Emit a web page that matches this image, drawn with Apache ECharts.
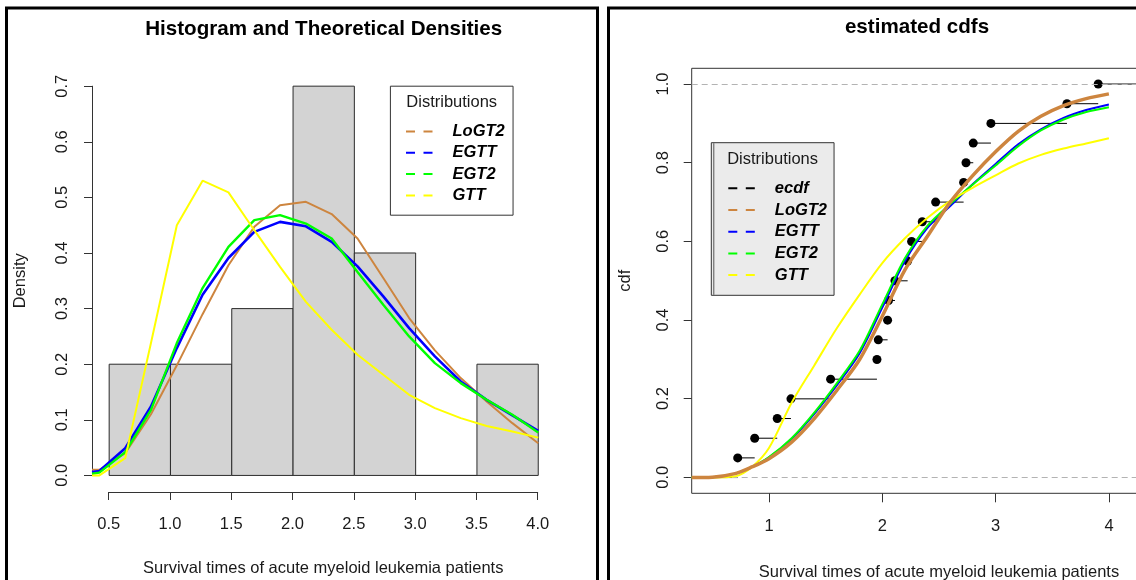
<!DOCTYPE html>
<html>
<head>
<meta charset="utf-8">
<script src="https://cdn.jsdelivr.net/npm/echarts@6/dist/echarts.min.js"></script>
<style>
  html, body { margin: 0; padding: 0; background: #fff; }
  #chart { width: 1136px; height: 580px; }
</style>
</head>
<body>
<div id="chart"></div>
<script>
// Histogram of survival times (density scale)
const breaks = [0.5, 1.0, 1.5, 2.0, 2.5, 3.0, 3.5, 4.0];
const histDensity = [0.2, 0.2, 0.3, 0.7, 0.4, 0.0, 0.2];

// Fitted densities, evaluated on a coarse grid
const densX  = [0.36, 0.42, 0.631, 0.841, 1.052, 1.262, 1.473, 1.684, 1.894, 2.105, 2.315, 2.526, 2.736, 2.947, 3.157, 3.368, 3.579, 3.789, 4.0];
const dLoGT2 = [0.010, 0.010, 0.040, 0.110, 0.198, 0.290, 0.378, 0.447, 0.486, 0.492, 0.470, 0.426, 0.355, 0.283, 0.225, 0.175, 0.133, 0.094, 0.058];
const dEGTT  = [0.006, 0.008, 0.049, 0.124, 0.229, 0.325, 0.391, 0.438, 0.456, 0.448, 0.420, 0.376, 0.322, 0.265, 0.214, 0.169, 0.136, 0.108, 0.080];
const dEGT2  = [0.003, 0.005, 0.042, 0.118, 0.238, 0.337, 0.411, 0.459, 0.468, 0.453, 0.426, 0.366, 0.307, 0.250, 0.202, 0.166, 0.136, 0.109, 0.077];
const dGTT   = [0.000, 0.000, 0.031, 0.238, 0.450, 0.530, 0.509, 0.441, 0.375, 0.312, 0.262, 0.217, 0.181, 0.145, 0.121, 0.103, 0.089, 0.079, 0.068];

// Empirical cdf: sorted observations and step heights
const ecdfX = [0.724, 0.874, 1.073, 1.194, 1.544, 1.953, 1.965, 2.047, 2.055, 2.112, 2.224, 2.259, 2.353, 2.471, 2.718, 2.739, 2.803, 2.959, 3.630, 3.906];
const ecdfY = [0.05, 0.10, 0.15, 0.20, 0.25, 0.30, 0.35, 0.40, 0.45, 0.50, 0.55, 0.60, 0.65, 0.70, 0.75, 0.80, 0.85, 0.90, 0.95, 1.00];

// Fitted cdfs
const cdfX   = [0.318, 0.5, 0.7, 0.85, 1.0, 1.2, 1.4, 1.6, 1.8, 2.0, 2.2, 2.4, 2.6, 2.8, 3.0, 3.2, 3.4, 3.6, 3.8, 4.0];
const cLoGT2 = [0.000, 0.001, 0.010, 0.027, 0.048, 0.090, 0.150, 0.222, 0.300, 0.410, 0.528, 0.614, 0.700, 0.768, 0.828, 0.880, 0.918, 0.945, 0.963, 0.975];
const cEGTT  = [0.000, 0.001, 0.010, 0.027, 0.051, 0.098, 0.162, 0.235, 0.316, 0.432, 0.550, 0.635, 0.690, 0.746, 0.797, 0.847, 0.885, 0.914, 0.934, 0.948];
const cEGT2  = [0.000, 0.001, 0.010, 0.027, 0.052, 0.100, 0.165, 0.240, 0.322, 0.440, 0.557, 0.640, 0.695, 0.745, 0.793, 0.842, 0.882, 0.910, 0.929, 0.941];
const cGTT   = [0.000, 0.000, 0.003, 0.027, 0.075, 0.190, 0.285, 0.380, 0.465, 0.545, 0.608, 0.660, 0.703, 0.737, 0.768, 0.798, 0.820, 0.836, 0.849, 0.862];

const yTicksDensity = [0, 0.7, 0.1];
const xTicksHist = [0.5, 4.0, 0.5];
const yTicksCdf = [0, 1, 0.2];
const xTicksCdf = [1, 4, 1];

const FONT = '"Liberation Sans", Arial, Helvetica, sans-serif';
const TXT = '#1a1a1a';
const AX = '#333';
const COL = { LoGT2: '#CD853F', EGTT: '#0000FF', EGT2: '#00FF00', GTT: '#FFFF00', ecdf: '#000000' };

const pairs = (xs, ys) => xs.map((x, i) => [x, ys[i]]);

const histData = histDensity.map((d, i) => [breaks[i], breaks[i + 1], d]);

// step segments: mode 1 = open to the left edge, 2 = open to the right edge
const segData = [[ecdfX[0], ecdfX[0], 0, 1]];
ecdfX.forEach((x, i) => {
  if (i < ecdfX.length - 1) segData.push([x, ecdfX[i + 1], ecdfY[i], 0]);
  else segData.push([x, x, ecdfY[i], 2]);
});

const tickLabel = (digits) => (v) => v.toFixed(digits);

const axisText = { color: TXT, fontSize: 16.5, fontFamily: FONT };

function hidden(gridIndex, min, max) {
  return { type: 'value', gridIndex, min, max, show: false };
}

function curve(name, xs, ys, xi, width, z) {
  return {
    name, type: 'line', xAxisIndex: xi, yAxisIndex: xi,
    data: pairs(xs, ys), symbol: 'none', showSymbol: false,
    lineStyle: { color: COL[name], width }, itemStyle: { color: COL[name] },
    z, animation: false, silent: true
  };
}

const dashIcon = 'path://M0,0H9V2H0Z M17.5,0H26.5V2H17.5Z';

const legendBase = {
  orient: 'vertical', icon: dashIcon, itemWidth: 26.5, itemHeight: 2,
  selectedMode: false, borderColor: AX, borderWidth: 1, borderRadius: 0,
  textStyle: { fontFamily: FONT, fontSize: 16.5, fontWeight: 'bold', fontStyle: 'italic',
               color: '#000', lineHeight: 18, padding: [0, 0, 0, 15] }
};

const option = {
  backgroundColor: '#ffffff',
  animation: false,
  title: [
    { text: 'Histogram and Theoretical Densities', left: 323.7, top: 18.7, textAlign: 'center', padding: 0,
      textStyle: { fontFamily: FONT, fontSize: 20.6, fontWeight: 'bold', color: '#000', lineHeight: 22 } },
    { text: 'estimated cdfs', left: 917, top: 16.3, textAlign: 'center', padding: 0,
      textStyle: { fontFamily: FONT, fontSize: 20.6, fontWeight: 'bold', color: '#000', lineHeight: 22 } },
    { text: 'Distributions', left: 451.7, top: 93.7, textAlign: 'center', padding: 0, z: 20,
      textStyle: { fontFamily: FONT, fontSize: 16.5, fontWeight: 'normal', color: TXT, lineHeight: 18 } },
    { text: 'Distributions', left: 772.6, top: 150, textAlign: 'center', padding: 0, z: 20,
      textStyle: { fontFamily: FONT, fontSize: 16.5, fontWeight: 'normal', color: TXT, lineHeight: 18 } }
  ],
  legend: [
    Object.assign({}, legendBase, {
      data: ['LoGT2', 'EGTT', 'EGT2', 'GTT'], left: 390.4, top: 86.2,
      padding: [36.3, 8.3, 10.8, 15.6], itemGap: 3.3, backgroundColor: '#ffffff'
    }),
    Object.assign({}, legendBase, {
      data: ['ecdf', 'LoGT2', 'EGTT', 'EGT2', 'GTT'], left: 711.3, top: 142.7,
      padding: [36.6, 7, 11.2, 17], itemGap: 3.7, backgroundColor: '#EBEBEB'
    })
  ],
  grid: [
    { left: 92, top: 70.6, width: 463.4, height: 420.4, outerBoundsMode: 'none' },
    { left: 92, top: 86.2, width: 400, height: 389.2, outerBoundsMode: 'none' },
    { left: 108.7, top: 100, width: 429, height: 392, outerBoundsMode: 'none' },
    { left: 691.7, top: 68.3, width: 450.6, height: 425, outerBoundsMode: 'none',
      show: true, borderColor: AX, borderWidth: 1, backgroundColor: 'transparent' },
    { left: 691.7, top: 84, width: 300, height: 393.3, outerBoundsMode: 'none' },
    { left: 769, top: 100, width: 340, height: 393.3, outerBoundsMode: 'none' }
  ],
  xAxis: [
    hidden(0, 0.36, 4.14),
    hidden(1, 0, 1),
    { type: 'value', gridIndex: 2, min: xTicksHist[0], max: xTicksHist[1], interval: xTicksHist[2],
      position: 'bottom', splitLine: { show: false },
      axisLine: { show: true, lineStyle: { color: AX, width: 1 } },
      axisTick: { show: true, inside: false, length: 8, lineStyle: { color: AX, width: 1 } },
      axisLabel: Object.assign({ margin: 24, formatter: tickLabel(1), showMinLabel: true, showMaxLabel: true }, axisText),
      name: 'Survival times of acute myeloid leukemia patients', nameLocation: 'middle', nameGap: 67.5,
      nameTextStyle: axisText },
    hidden(3, 0.318, 4.295),
    hidden(4, 0, 1),
    { type: 'value', gridIndex: 5, min: xTicksCdf[0], max: xTicksCdf[1], interval: xTicksCdf[2],
      position: 'bottom', splitLine: { show: false },
      axisLine: { show: false },
      axisTick: { show: true, inside: false, length: 9, lineStyle: { color: AX, width: 1 } },
      axisLabel: Object.assign({ margin: 25, formatter: tickLabel(0), showMinLabel: true, showMaxLabel: true }, axisText),
      name: 'Survival times of acute myeloid leukemia patients', nameLocation: 'middle', nameGap: 70.5,
      nameTextStyle: axisText }
  ],
  yAxis: [
    hidden(0, -0.028, 0.728),
    { type: 'value', gridIndex: 1, min: yTicksDensity[0], max: yTicksDensity[1], interval: yTicksDensity[2],
      position: 'left', splitLine: { show: false },
      axisLine: { show: true, lineStyle: { color: AX, width: 1 } },
      axisTick: { show: true, inside: false, length: 8, lineStyle: { color: AX, width: 1 } },
      axisLabel: Object.assign({ rotate: 90, margin: 21, formatter: tickLabel(1), showMinLabel: true, showMaxLabel: true }, axisText),
      name: 'Density', nameLocation: 'middle', nameGap: 62.7, nameTextStyle: axisText },
    hidden(2, 0, 1),
    hidden(3, -0.04, 1.04),
    { type: 'value', gridIndex: 4, min: yTicksCdf[0], max: yTicksCdf[1], interval: yTicksCdf[2],
      position: 'left', splitLine: { show: false },
      axisLine: { show: false },
      axisTick: { show: true, inside: false, length: 8, lineStyle: { color: AX, width: 1 } },
      axisLabel: Object.assign({ rotate: 90, margin: 20, formatter: tickLabel(1), showMinLabel: true, showMaxLabel: true }, axisText),
      name: 'cdf', nameLocation: 'middle', nameGap: 58, nameTextStyle: axisText },
    hidden(5, 0, 1)
  ],
  series: [
    // histogram bars
    {
      type: 'custom', name: 'hist', xAxisIndex: 0, yAxisIndex: 0, data: histData,
      encode: { x: [0, 1], y: 2 }, z: 1, silent: true, clip: false,
      renderItem: (params, api) => {
        const p0 = api.coord([api.value(0), api.value(2)]);
        const p1 = api.coord([api.value(1), 0]);
        return {
          type: 'rect',
          shape: { x: p0[0], y: p0[1], width: p1[0] - p0[0], height: p1[1] - p0[1] },
          style: { fill: '#D3D3D3', stroke: '#2b2b2b', lineWidth: 1 }
        };
      }
    },
    curve('LoGT2', densX, dLoGT2, 0, 2, 2),
    curve('EGTT', densX, dEGTT, 0, 2.6, 3),
    curve('EGT2', densX, dEGT2, 0, 2.4, 4),
    curve('GTT', densX, dGTT, 0, 2, 5),

    // empirical cdf: horizontal steps
    {
      type: 'custom', name: 'ecdfSteps', xAxisIndex: 3, yAxisIndex: 3, data: segData,
      encode: { x: [0, 1], y: 2 }, z: 2, silent: true, clip: true,
      renderItem: (params, api) => {
        const cs = params.coordSys;
        const y = api.coord([api.value(0), api.value(2)])[1];
        let xa = api.coord([api.value(0), 0])[0];
        let xb = api.coord([api.value(1), 0])[0];
        const mode = api.value(3);
        if (mode === 1) xa = cs.x;
        if (mode === 2) xb = cs.x + cs.width;
        return { type: 'line', shape: { x1: xa, y1: y, x2: xb, y2: y },
                 style: { stroke: '#000', lineWidth: 1 } };
      }
    },
    // empirical cdf: points, with the 0 and 1 reference lines
    {
      type: 'scatter', name: 'ecdf', xAxisIndex: 3, yAxisIndex: 3,
      data: pairs(ecdfX, ecdfY), symbol: 'circle', symbolSize: 9,
      itemStyle: { color: '#000', opacity: 1 }, z: 3, silent: true,
      markLine: {
        silent: true, symbol: ['none', 'none'], label: { show: false },
        lineStyle: { color: '#B3B3B3', type: [6, 4], width: 1 },
        data: [{ yAxis: 0 }, { yAxis: 1 }], animation: false
      }
    },
    Object.assign(curve('EGTT', cdfX, cEGTT, 3, 2, 4), { smooth: 0.3 }),
    Object.assign(curve('EGT2', cdfX, cEGT2, 3, 2, 5), { smooth: 0.3 }),
    Object.assign(curve('GTT', cdfX, cGTT, 3, 2, 6), { smooth: 0.3 }),
    Object.assign(curve('LoGT2', cdfX, cLoGT2, 3, 3.5, 7), { smooth: 0.3 })
  ],
  graphic: [
    { type: 'rect', silent: true, z: 100, shape: { x: 6.5, y: 8, width: 591, height: 640 },
      style: { fill: 'none', stroke: '#000', lineWidth: 3 } },
    { type: 'rect', silent: true, z: 100, shape: { x: 608.5, y: 8, width: 600, height: 640 },
      style: { fill: 'none', stroke: '#000', lineWidth: 3 } },
    // inner edge of the cdf legend frame
    { type: 'line', silent: true, z: 100, shape: { x1: 713.8, y1: 143.2, x2: 713.8, y2: 294.8 },
      style: { stroke: '#555', lineWidth: 1 } }
  ]
};

const chart = echarts.init(document.getElementById('chart'), null, { renderer: 'canvas' });
chart.setOption(option);
</script>
</body>
</html>
